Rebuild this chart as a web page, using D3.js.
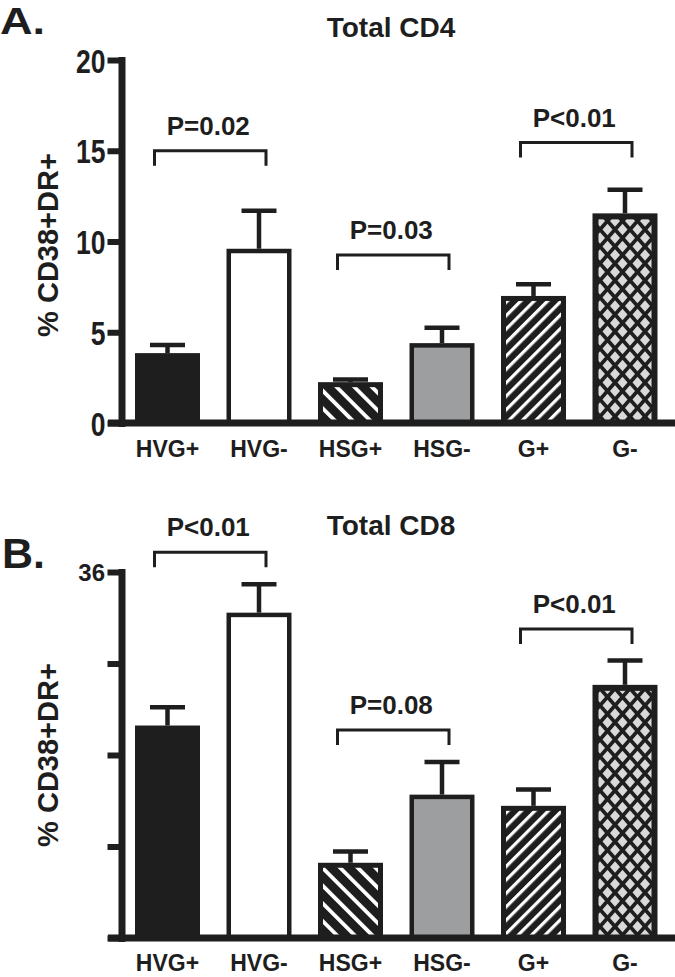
<!DOCTYPE html>
<html><head><meta charset="utf-8">
<script src="https://cdn.jsdelivr.net/npm/d3@7"></script>
<style>
html,body{margin:0;padding:0;background:#fff;}
svg{display:block;}
text{font-family:"Liberation Sans",Arial,Helvetica,sans-serif;font-weight:bold;fill:#1e1e1e;}
</style></head><body>
<script>
// ---- data ----
const categories = ["HVG+","HVG-","HSG+","HSG-","G+","G-"];
const cd4Means = [3.85, 9.6, 2.25, 4.4, 7.0, 11.55];
const cd4Upper = [4.3, 11.7, 2.4, 5.25, 7.65, 12.85];
const cd8Means = [20.9, 32.0, 7.4, 14.1, 13.0, 24.9];
const cd8Upper = [22.7, 34.8, 8.5, 17.3, 14.6, 27.3];
const cd4Ticks = [0, 5, 10, 15, 20];
const cd4TickLabels = ["0", "5", "10", "15", "20"];
const cd8Ticks = [0, 9, 18, 27, 36];
const cd8TickLabels = ["", "", "", "", "36"];
const cd4Brackets = [["HVG+","HVG-",15.0,"P=0.02"],["HSG+","HSG-",9.25,"P=0.03"],["G+","G-",15.45,"P<0.01"]];
const cd8Brackets = [["HVG+","HVG-",37.95,"P<0.01"],["HSG+","HSG-",20.45,"P=0.08"],["G+","G-",30.4,"P<0.01"]];
const titles = ["Total CD4", "Total CD8"];
const panelLetters = ["A.", "B."];
const yTitle = "% CD38+DR+";
const fillKinds = ["solid","white","stripeBack","gray","stripeFwd","cross"];

// ---- drawing ----
const W = 675, H = 977;
const INK = "#1e1e1e";
const svg = d3.select("body").append("svg").attr("width", W).attr("height", H);
svg.append("rect").attr("width", W).attr("height", H).attr("fill", "#fff");

const defs = svg.append("defs");
function stripePattern(id, angle, period, white) {
  const p = defs.append("pattern").attr("id", id).attr("patternUnits", "userSpaceOnUse")
    .attr("width", period).attr("height", period).attr("patternTransform", `rotate(${angle})`);
  p.append("rect").attr("width", period).attr("height", period).attr("fill", INK);
  p.append("rect").attr("x", 0).attr("width", white).attr("height", period).attr("fill", "#fff");
}
stripePattern("stripeBack", -45, 12.5, 3.8);
stripePattern("stripeFwd", 45, 9.5, 3.2);
(function () {
  const w = 15, h = 17, a = 5, b = 5.8;
  const p = defs.append("pattern").attr("id", "cross").attr("patternUnits", "userSpaceOnUse")
    .attr("width", w).attr("height", h);
  p.append("rect").attr("width", w).attr("height", h).attr("fill", INK);
  [[w/2, h/2], [0, 0], [w, 0], [0, h], [w, h]].forEach(([cx, cy]) => {
    p.append("polygon").attr("points", `${cx},${cy-b} ${cx+a},${cy} ${cx},${cy+b} ${cx-a},${cy}`)
      .attr("fill", "#d9d9db");
  });
})();

const fillMap = {
  solid: {fill: INK, sw: 0},
  white: {fill: "#fff", sw: 4.5},
  stripeBack: {fill: "url(#stripeBack)", sw: 5},
  gray: {fill: "#9d9ea0", sw: 4.5},
  stripeFwd: {fill: "url(#stripeFwd)", sw: 5},
  cross: {fill: "url(#cross)", sw: 6}
};

const x = d3.scalePoint().domain(categories).range([167.5, 625]);
const BW = 65;

const panels = [
  {means: cd4Means, upper: cd4Upper, ticks: cd4Ticks, tickLabels: cd4TickLabels, brackets: cd4Brackets,
   max: 20, yr: [423, 60], titleY: 37, catY: 457, yTitleY: 245, condensed: true,
   letter: {x: 0, y: 34, size: 37, sx: 1.22}},
  {means: cd8Means, upper: cd8Upper, ticks: cd8Ticks, tickLabels: cd8TickLabels, brackets: cd8Brackets,
   max: 36, yr: [938, 572], titleY: 535, catY: 971, yTitleY: 755, condensed: false,
   letter: {x: 2, y: 568, size: 43, sx: 1.0}}
];

panels.forEach((P, pi) => {
  const g = svg.append("g");
  const y = d3.scaleLinear().domain([0, P.max]).range(P.yr);

  // bars
  categories.forEach((c, i) => {
    const k = fillMap[fillKinds[i]];
    const cx = x(c), top = y(P.means[i]), bot = y(0);
    g.append("rect")
      .attr("x", cx - BW/2 + k.sw/2).attr("y", top + k.sw/2)
      .attr("width", BW - k.sw).attr("height", bot - top - k.sw/2)
      .attr("fill", k.fill)
      .attr("stroke", k.sw ? INK : "none").attr("stroke-width", k.sw);
    // error bar
    g.append("line").attr("x1", cx).attr("x2", cx).attr("y1", top).attr("y2", y(P.upper[i]))
      .attr("stroke", INK).attr("stroke-width", 4.5);
    g.append("line").attr("x1", cx - 17.5).attr("x2", cx + 17.5)
      .attr("y1", y(P.upper[i])).attr("y2", y(P.upper[i]))
      .attr("stroke", INK).attr("stroke-width", 4.5);
    // category label
    g.append("text").attr("x", cx).attr("y", P.catY).attr("text-anchor", "middle")
      .attr("font-size", 23).text(c);
  });

  // baseline
  g.append("line").attr("x1", 108).attr("x2", W).attr("y1", y(0)).attr("y2", y(0))
    .attr("stroke", INK).attr("stroke-width", 7);

  // y axis
  const axis = d3.axisLeft(y).tickValues(P.ticks).tickSize(14).tickSizeOuter(0).tickPadding(2)
    .tickFormat((d, i) => P.tickLabels[i]);
  const ag = g.append("g").attr("transform", "translate(121.5,0)").call(axis);
  ag.select(".domain").attr("stroke", INK).attr("stroke-width", 7).attr("stroke-linecap", "square");
  ag.selectAll(".tick line").attr("stroke", INK).attr("stroke-width", 6);
  ag.selectAll(".tick text").attr("fill", INK).attr("font-family", null);
  ag.attr("font-family", null).attr("font-size", null);
  if (P.condensed) {
    ag.selectAll(".tick text").attr("font-size", 34).attr("dy", "0.36em")
      .attr("transform", "scale(0.78,1)").attr("x", -16 / 0.78);
  } else {
    ag.selectAll(".tick text").attr("font-size", 24).attr("dy", "0.36em").attr("x", -16.5);
  }

  // brackets
  P.brackets.forEach(([a, b, v, lab]) => {
    const x1 = x(a) - 13, x2 = x(b) + 7, yy = y(v);
    g.append("path").attr("d", `M${x1},${yy + 15}V${yy}H${x2}V${yy + 15}`)
      .attr("fill", "none").attr("stroke", INK).attr("stroke-width", 3);
    g.append("text").attr("x", (x1 + x2) / 2 - 2).attr("y", yy - 16).attr("text-anchor", "middle")
      .attr("font-size", 26).text(lab);
  });

  // titles
  g.append("text").attr("x", 391).attr("y", P.titleY).attr("text-anchor", "middle")
    .attr("font-size", 28).text(titles[pi]);
  g.append("text").attr("transform", `translate(58,${P.yTitleY}) rotate(-90)`)
    .attr("text-anchor", "middle").attr("font-size", 29).text(yTitle);
  g.append("text").attr("transform", `translate(${P.letter.x},${P.letter.y}) scale(${P.letter.sx},1)`)
    .attr("font-size", P.letter.size).text(panelLetters[pi]);
});
</script>
</body></html>
